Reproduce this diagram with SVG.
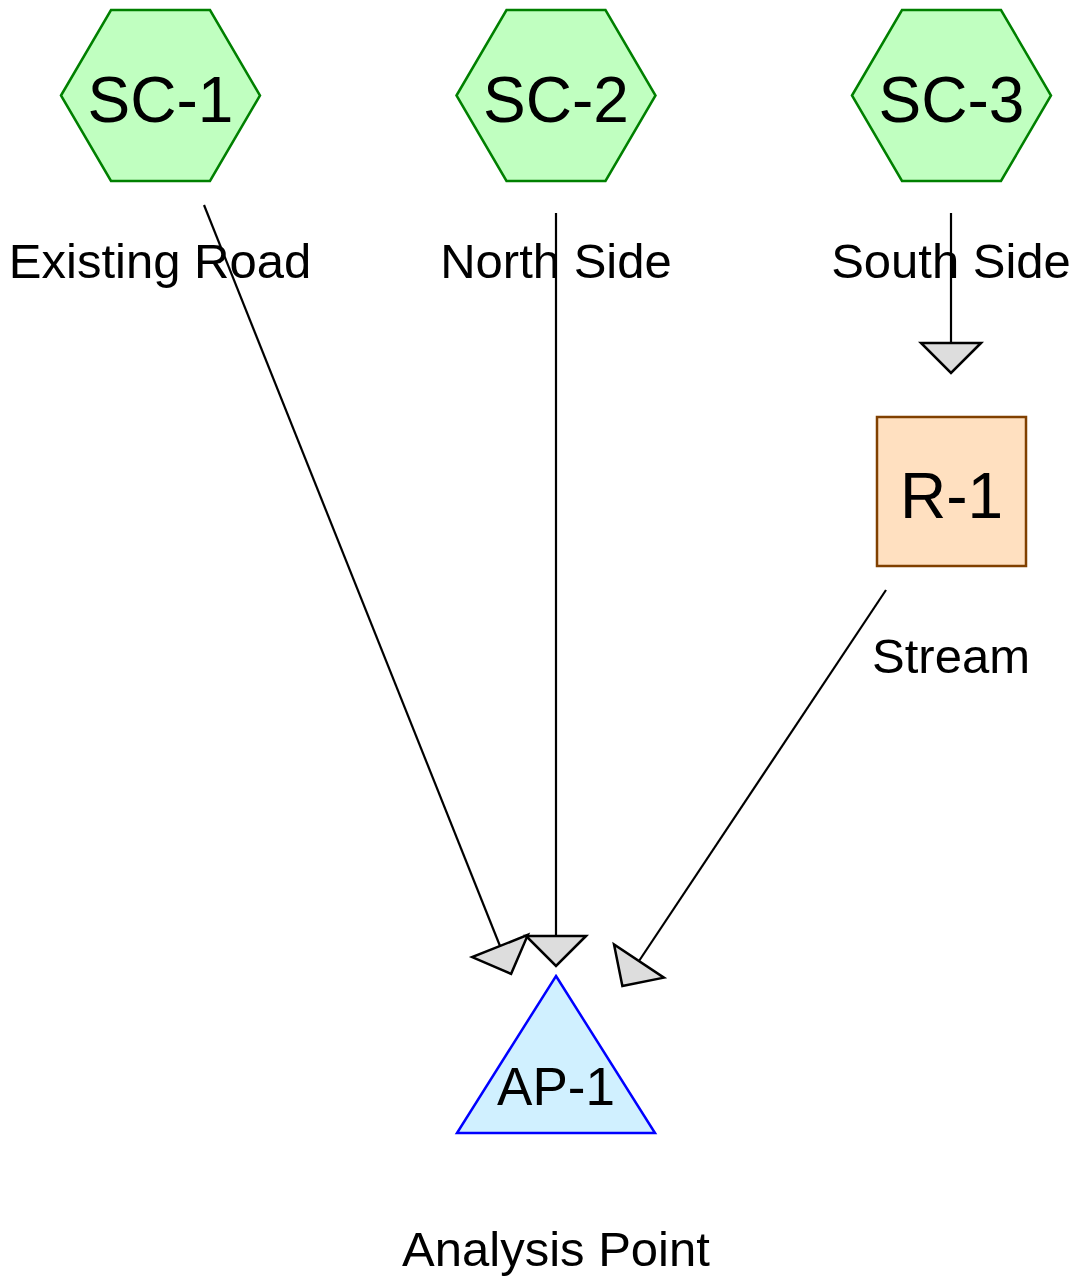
<svg xmlns="http://www.w3.org/2000/svg" width="1078" height="1282" viewBox="0 0 1078 1282">
  <style>
    .sc { fill: #c0ffc0; stroke: #008000; stroke-width: 2.5; }
    .res { fill: #ffe0c0; stroke: #804000; stroke-width: 2.5; }
    .ap { fill: #d0f0ff; stroke: #0000ff; stroke-width: 2.5; }
    .edge { fill: none; stroke: #000000; stroke-width: 2.2; marker-end: url(#arrow); }
    .big { font-family: "Liberation Sans", Arial, sans-serif; font-size: 64px; fill: #000000; text-anchor: middle; }
    .mid { font-family: "Liberation Sans", Arial, sans-serif; font-size: 53px; fill: #000000; text-anchor: middle; }
    .lbl { font-family: "Liberation Sans", Arial, sans-serif; font-size: 49px; fill: #000000; text-anchor: middle; }
  </style>
  <defs>
    <marker id="arrow" markerUnits="userSpaceOnUse" markerWidth="70" markerHeight="70" refX="0" refY="0" viewBox="-5 -35 40 70" orient="auto" overflow="visible">
      <path d="M0,-30 L30,0 L0,30 Z" fill="#dddddd" stroke="#000000" stroke-width="2.5" stroke-linejoin="miter"/>
    </marker>
  </defs>
  <rect width="1078" height="1282" fill="#ffffff"/>
  <g id="connectors">
    <line class="edge" x1="204" y1="205" x2="500" y2="946"/>
    <line class="edge" x1="556" y1="213" x2="556" y2="936"/>
    <line class="edge" x1="951" y1="213" x2="951" y2="343"/>
    <line class="edge" x1="886" y1="590" x2="639" y2="961"/>
  </g>
  <g id="SC-1">
    <polygon class="sc" points="61,95.5 111,10 210,10 260,95.5 210,181 111,181"/>
    <text class="big" x="160.5" y="122">SC-1</text>
    <text class="lbl" x="160" y="278">Existing Road</text>
  </g>
  <g id="SC-2">
    <polygon class="sc" points="456.5,95.5 506.5,10 605.5,10 655.5,95.5 605.5,181 506.5,181"/>
    <text class="big" x="556" y="122">SC-2</text>
    <text class="lbl" x="556" y="278">North Side</text>
  </g>
  <g id="SC-3">
    <polygon class="sc" points="852,95.5 902,10 1001,10 1051,95.5 1001,181 902,181"/>
    <text class="big" x="951.5" y="122">SC-3</text>
    <text class="lbl" x="951" y="278">South Side</text>
  </g>
  <g id="R-1">
    <rect class="res" x="877" y="417" width="149" height="149"/>
    <text class="big" x="951.5" y="518">R-1</text>
    <text class="lbl" x="951" y="673">Stream</text>
  </g>
  <g id="AP-1">
    <polygon class="ap" points="556,976 655,1133 457,1133"/>
    <text class="mid" x="556" y="1105">AP-1</text>
    <text class="lbl" x="556" y="1266">Analysis Point</text>
  </g>
</svg>
